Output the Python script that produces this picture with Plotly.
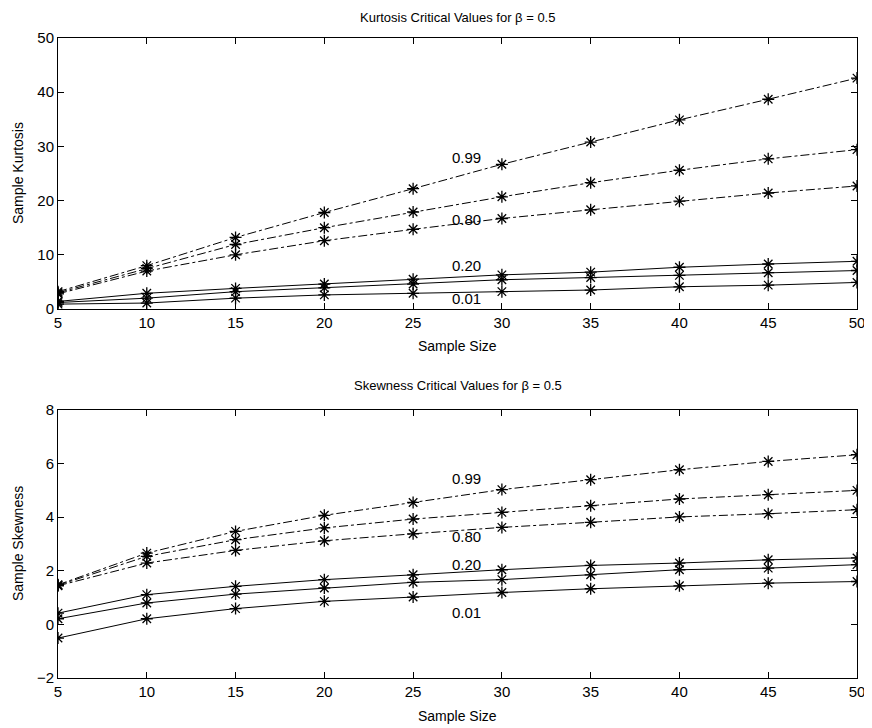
import plotly.graph_objects as go

sample_size = [5, 10, 15, 20, 25, 30, 35, 40, 45, 50]

# Kurtosis critical values (top panel)
kurt_099 = [3.2, 8.0, 13.2, 17.8, 22.2, 26.7, 30.8, 34.9, 38.7, 42.6]
kurt_095 = [3.0, 7.5, 11.9, 15.0, 17.9, 20.7, 23.3, 25.6, 27.7, 29.4]
kurt_080 = [2.8, 7.0, 10.0, 12.6, 14.7, 16.7, 18.3, 19.9, 21.4, 22.7]
kurt_020 = [1.4, 2.9, 3.8, 4.6, 5.5, 6.3, 6.8, 7.7, 8.3, 8.8]
kurt_005 = [1.2, 2.0, 3.2, 3.9, 4.6, 5.4, 5.8, 6.2, 6.7, 7.1]
kurt_001 = [0.9, 1.1, 2.0, 2.6, 2.9, 3.2, 3.5, 4.1, 4.4, 4.9]

# Skewness critical values (bottom panel)
skew_099 = [1.48, 2.66, 3.47, 4.07, 4.55, 5.03, 5.40, 5.77, 6.08, 6.33]
skew_095 = [1.46, 2.54, 3.16, 3.60, 3.93, 4.18, 4.43, 4.68, 4.84, 5.00]
skew_080 = [1.44, 2.29, 2.76, 3.12, 3.38, 3.62, 3.81, 4.01, 4.13, 4.28]
skew_020 = [0.42, 1.11, 1.42, 1.67, 1.85, 2.04, 2.20, 2.29, 2.41, 2.48]
skew_005 = [0.21, 0.80, 1.13, 1.36, 1.57, 1.67, 1.85, 2.04, 2.10, 2.23]
skew_001 = [-0.51, 0.21, 0.59, 0.86, 1.02, 1.19, 1.33, 1.44, 1.54, 1.60]

label_text = ["0.99", "0.80", "0.20", "0.01"]
kurt_label_x = [28.0, 28.0, 28.0, 28.0]
kurt_label_y = [28.0, 16.5, 8.1, 2.0]
skew_label_x = [28.0, 28.0, 28.0, 28.0]
skew_label_y = [5.46, 3.28, 2.23, 0.43]

# The page body adds an 8px offset, so the figure is 8px smaller and all
# target screen positions are shifted by -8 into figure coordinates.
OFF = 8
W, H = 872 - OFF, 728 - OFF
ML = 58 - OFF
MT = 38 - OFF
MR = W - (857 - OFF)
MB = H - (678 - OFF)
FONT = "Liberation Sans, Arial, Helvetica, sans-serif"

fig = go.Figure()

def add_series(y, dash, xa, ya):
    fig.add_trace(go.Scatter(
        x=sample_size, y=y, mode="lines+markers",
        line=dict(color="black", width=1, dash=dash),
        marker=dict(symbol="asterisk-open", size=10, color="black",
                    line=dict(color="black", width=1.3)),
        xaxis=xa, yaxis=ya, showlegend=False, hoverinfo="x+y"))

for s in [kurt_099, kurt_095, kurt_080]:
    add_series(s, "dashdot", "x", "y")
for s in [kurt_020, kurt_005, kurt_001]:
    add_series(s, "solid", "x", "y")
for s in [skew_099, skew_095, skew_080]:
    add_series(s, "dashdot", "x2", "y2")
for s in [skew_020, skew_005, skew_001]:
    add_series(s, "solid", "x2", "y2")

PH = H - MT - MB
PW = W - ML - MR

def fy(p):
    """screen pixel y -> paper fraction"""
    return 1 - (p - OFF - MT) / PH

def fx(p):
    return (p - OFF - ML) / PW

top_dom = [fy(309), 1.0]
bot_dom = [0.0, fy(410)]

axis_common = dict(
    showline=True, linecolor="black", linewidth=1, mirror="ticks",
    ticks="inside", ticklen=6, tickcolor="black", tickwidth=1,
    showgrid=False, zeroline=False, automargin=False,
    tickfont=dict(family=FONT, size=15, color="black"),
)

fig.update_layout(
    width=W, height=H, autosize=False,
    paper_bgcolor="white", plot_bgcolor="white",
    margin=dict(l=ML, r=MR, t=MT, b=MB, pad=0, autoexpand=False),
    xaxis=dict(domain=[0, 1], range=[5, 50], tickvals=sample_size, anchor="y", **axis_common),
    yaxis=dict(domain=top_dom, range=[0, 50], tickvals=[0, 10, 20, 30, 40, 50], anchor="x", **axis_common),
    xaxis2=dict(domain=[0, 1], range=[5, 50], tickvals=sample_size, anchor="y2", **axis_common),
    yaxis2=dict(domain=bot_dom, range=[-2, 8], tickvals=[-2, 0, 2, 4, 6, 8], anchor="x2", **axis_common),
)

ann = []
for t, x, y in zip(label_text, kurt_label_x, kurt_label_y):
    ann.append(dict(x=x, y=y, xref="x", yref="y", text=t, showarrow=False,
                    xanchor="center", yanchor="middle",
                    font=dict(family=FONT, size=15, color="black")))
for t, x, y in zip(label_text, skew_label_x, skew_label_y):
    ann.append(dict(x=x, y=y, xref="x2", yref="y2", text=t, showarrow=False,
                    xanchor="center", yanchor="middle",
                    font=dict(family=FONT, size=15, color="black")))

def pa(x, y, text, size, angle=0):
    return dict(x=x, y=y, xref="paper", yref="paper", text=text, showarrow=False,
                xanchor="center", yanchor="middle", textangle=angle,
                font=dict(family=FONT, size=size, color="black"))

cx = 0.5
ann += [
    pa(cx, fy(17), "Kurtosis Critical Values for β = 0.5", 13),
    pa(cx, fy(385), "Skewness Critical Values for β = 0.5", 13),
    pa(cx, fy(346), "Sample Size", 14),
    pa(cx, fy(716), "Sample Size", 14),
    pa(fx(18), fy(173), "Sample Kurtosis", 14, -90),
    pa(fx(18), fy(544), "Sample Skewness", 14, -90),
]
fig.update_layout(annotations=ann)

fig.write_html("out.html")
